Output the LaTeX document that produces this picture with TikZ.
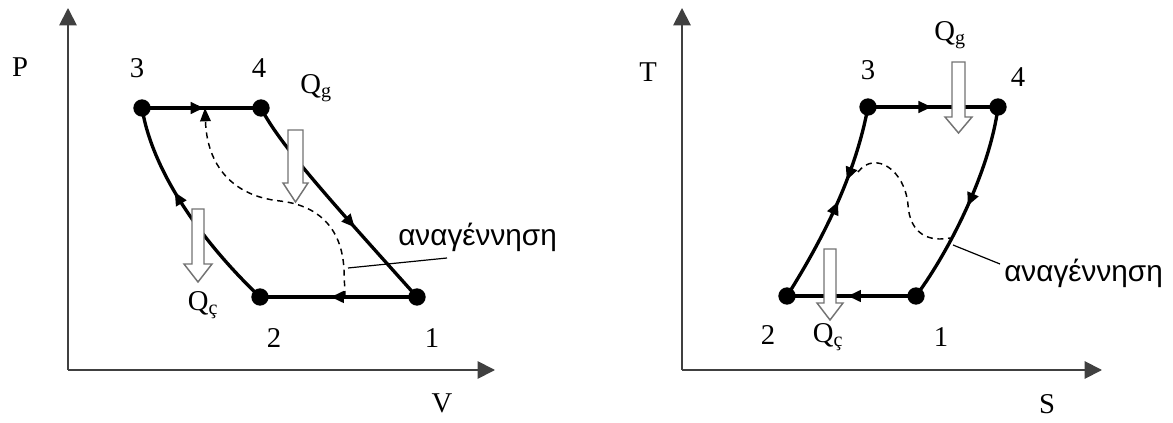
\documentclass[tikz,border=0pt]{standalone}
\usepackage{fontspec}
\setmainfont{Liberation Serif}
\newfontfamily\grk{Liberation Sans}
\usetikzlibrary{arrows.meta,decorations.markings}
\newcommand{\hollowarrow}[6]{% x, ytop, yhead, ytip, halfshaft, halfhead
  \draw[hollow] (#1-#5,#2) -- (#1+#5,#2) -- (#1+#5,#3) -- (#1+#6,#3) -- (#1,#4)
    -- (#1-#6,#3) -- (#1-#5,#3) -- cycle;}
\begin{document}
\begin{tikzpicture}[x=0.75pt,y=-0.75pt,
  dot/.style={circle,fill=black,inner sep=0pt,minimum size=13pt},
  cyc/.style={line width=2.5pt},
  dsh/.style={line width=1.1pt,dash pattern=on 4.5pt off 3.5pt},
  axis/.style={line width=1.4pt,black!75,-{Triangle[length=13pt,width=13pt]}},
  hollow/.style={fill=white,draw=black!55,line width=1.1pt,line join=miter},
  lbl/.style={font=\fontsize{21.5}{24}\selectfont,inner sep=0pt},
  glbl/.style={font=\grk\fontsize{22.3}{26}\selectfont,inner sep=0pt},
  leader/.style={line width=0.9pt},
  tip/.style={-{Triangle[length=10pt,width=8pt]}},
  fwd/.style={postaction={decorate},decoration={markings,
     mark=at position #1 with {\arrow{Triangle[length=10pt,width=8.5pt]}}}},
  fwdrev/.style 2 args={postaction={decorate},decoration={markings,
     mark=at position #1 with {\arrow{Triangle[length=10pt,width=8.5pt]}},
     mark=at position #2 with {\arrowreversed{Triangle[length=10pt,width=8.5pt]}}}}
]
\useasboundingbox (0,0) rectangle (1173,423);

% ---------- left: P-V diagram ----------
\coordinate (oL) at (68,370);
\coordinate (yL) at (68,8);
\coordinate (xL) at (495,370);
\draw[axis] (oL) -- (yL);
\draw[axis] (oL) -- (xL);
\node[lbl] (P) at (20,67) {P};
\node[lbl] (V) at (442,403) {V};

\node[dot] (a3) at (142,108) {};
\node[dot] (a4) at (261,108) {};
\node[dot] (a2) at (260,297) {};
\node[dot] (a1) at (417,297) {};

\draw[cyc,fwd=0.52] (a3.center) -- (a4.center);
\draw[cyc,fwd=0.62] (a4.center) .. controls (280,145) and (330,200) .. (a1.center);
\draw[cyc,fwd=0.55] (a1.center) -- (a2.center);
\draw[cyc,fwd=0.6] (a2.center) .. controls (200,240) and (152,170) .. (a3.center);

\coordinate (dLb) at (345,297);
\coordinate (dLt) at (205,108);
\draw[dsh,tip] (dLb) -- (344,270) .. controls (342,225) and (315,205) .. (280,201)
   .. controls (232,196) and (207,165) .. (dLt);

\hollowarrow{295.5}{130}{183}{202}{7.5}{12.5}
\hollowarrow{198}{209}{264}{282}{6}{14}

\node[lbl] (l3) at (137,68) {3};
\node[lbl] (l4) at (259,68) {4};
\node[lbl] (l2) at (274,338) {2};
\node[lbl] (l1) at (432,338) {1};
\node[lbl] (qgL) at (316,88) {Q\textsubscript{g}};
\node[lbl] (qcL) at (203,305) {Q\textsubscript{ç}};

\node[glbl,anchor=west] (regL) at (398,237) {αναγέννηση};
\coordinate (lLa) at (348,268);
\coordinate (lLb) at (447,258);
\draw[leader] (lLa) -- (lLb);

% ---------- right: T-S diagram ----------
\coordinate (oR) at (682,370);
\coordinate (yR) at (682,8);
\coordinate (xR) at (1102,370);
\draw[axis] (oR) -- (yR);
\draw[axis] (oR) -- (xR);
\node[lbl] (T) at (648,72) {T};
\node[lbl] (S) at (1047,404) {S};

\node[dot] (b3) at (868,107) {};
\node[dot] (b4) at (998,107) {};
\node[dot] (b2) at (787,296) {};
\node[dot] (b1) at (916,296) {};

\draw[cyc,fwd=0.49] (b3.center) -- (b4.center);
\draw[cyc,fwd=0.5] (b4.center) .. controls (990,170) and (950,250) .. (b1.center);
\draw[cyc,fwd=0.53] (b1.center) -- (b2.center);
\draw[cyc,fwdrev={0.52}{0.63}] (b2.center) .. controls (835,220) and (858,160) .. (b3.center);

\coordinate (dRa) at (858,172);
\coordinate (dRb) at (950,238);
\draw[dsh] (dRa) .. controls (875,150) and (905,170) .. (908,205)
   .. controls (910,235) and (930,242) .. (dRb);

\hollowarrow{958.5}{62}{117}{133}{6.5}{13.5}
\hollowarrow{830}{249}{303}{320}{6}{13}

\node[lbl] (r3) at (868,70) {3};
\node[lbl] (r4) at (1018,77) {4};
\node[lbl] (r2) at (768,335) {2};
\node[lbl] (r1) at (941,337) {1};
\node[lbl] (qgR) at (950,35) {Q\textsubscript{g}};
\node[lbl] (qcR) at (828,337) {Q\textsubscript{ç}};

\node[glbl,anchor=west] (regR) at (1004,273) {αναγέννηση};
\coordinate (lRa) at (953,245);
\coordinate (lRb) at (1000,264);
\draw[leader] (lRa) -- (lRb);
\end{tikzpicture}
\end{document}
